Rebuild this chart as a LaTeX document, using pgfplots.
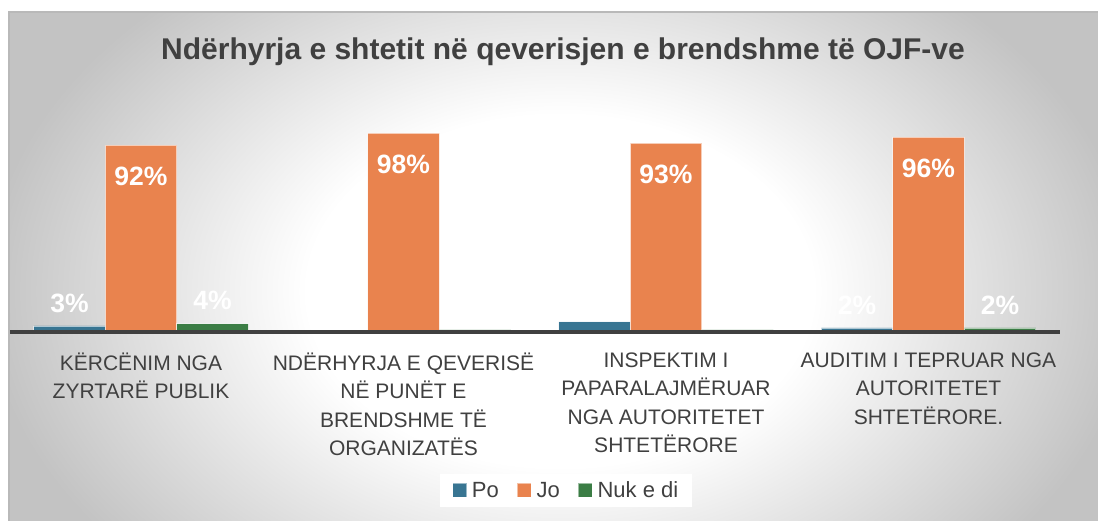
\documentclass[border=0pt]{standalone}
\usepackage{fontspec}
\setmainfont{Liberation Sans}
\usepackage{pgfplots}
\pgfplotsset{compat=1.18}
\definecolor{cPo}{HTML}{387592}
\definecolor{cJo}{HTML}{E9834E}
\definecolor{cNuk}{HTML}{3B7D45}
\definecolor{txt}{HTML}{404040}
\definecolor{bggray}{HTML}{C3C3C3}
\pgfdeclareradialshading{bgshade}{\pgfpoint{0bp}{0bp}}{color(0bp)=(white); color(11bp)=(white); color(25bp)=(bggray); color(50bp)=(bggray)}
\begin{document}
\begin{tikzpicture}[x=1pt,y=1pt]
\useasboundingbox (0,0) rectangle (1098,521);
\fill[white] (0,0) rectangle (1098,521);
\begin{scope}
\clip (9,0) rectangle (1098,509);
\fill[bggray] (9,0) rectangle (1098,509);
\shade[shading=bgshade] (560,230) ellipse [x radius=575, y radius=400];
\end{scope}
\draw[gray!55, line width=1.5pt] (9,-2) -- (9,509) -- (1100,509);
\node[anchor=base, font=\fontsize{30}{34}\selectfont\bfseries, text=txt] at (563,461) {Ndërhyrja e shtetit në qeverisjen e brendshme të OJF-ve};
\begin{axis}[
  at={(141pt,189pt)}, anchor=origin,
  scale only axis, width=1050pt, height=203pt,
  xmin=-0.5, xmax=3.5, ymin=0, ymax=100,
  ybar=0pt, bar width=71.5pt,
  axis y line=none, axis x line*=bottom,
  x axis line style={draw=txt, line width=4pt},
  axis on top,
  clip=false,
  /pgf/number format/assume math mode=true,
  xtick={0,1,2,3},
  xticklabels={{KËRCËNIM NGA\\ZYRTARË PUBLIK},{NDËRHYRJA E QEVERISË\\NË PUNËT E\\BRENDSHME TË\\ORGANIZATËS},{INSPEKTIM I\\PAPARALAJMËRUAR\\NGA AUTORITETET\\SHTETËRORE},{AUDITIM I TEPRUAR NGA\\AUTORITETET\\SHTETËRORE.}},
  major tick length=0pt,
  xticklabel style={font=\fontsize{21}{28.5}\selectfont, text=txt, align=center, anchor=north, yshift=-17pt},
  every axis plot post/.append style={draw=white, draw opacity=0.6, line width=0.75pt},
  every axis plot post/.append style={legend image code/.code={\fill[##1, draw=white, draw opacity=0.5] (0pt,-7pt) rectangle (14pt,7pt);}},
  legend style={at={(rel axis cs:0.53,-0.78)}, anchor=center, draw=none, fill=white, legend columns=3, font=\fontsize{22}{26}\selectfont, text=txt, inner xsep=12pt, inner ysep=6pt, /tikz/every odd column/.append style={column sep=3pt}, /tikz/every even column/.append style={column sep=16pt}},
  nodes near coords={\pgfmathprintnumber{\pgfplotspointmeta}\%},
  every node near coord/.append style={font=\fontsize{26.5}{30}\selectfont\bfseries, text=white, anchor=center, yshift=23pt},
]
\addplot[fill=cPo] coordinates {(0,3) (1,0) (2,5) (3,2)};
\addplot[fill=cJo, every node near coord/.append style={yshift=-54pt}] coordinates {(0,92) (1,98) (2,93) (3,96)};
\addplot[fill=cNuk] coordinates {(0,4) (1,1) (2,1) (3,2)};
\legend{Po,Jo,Nuk e di}
\end{axis}
\end{tikzpicture}
\end{document}
